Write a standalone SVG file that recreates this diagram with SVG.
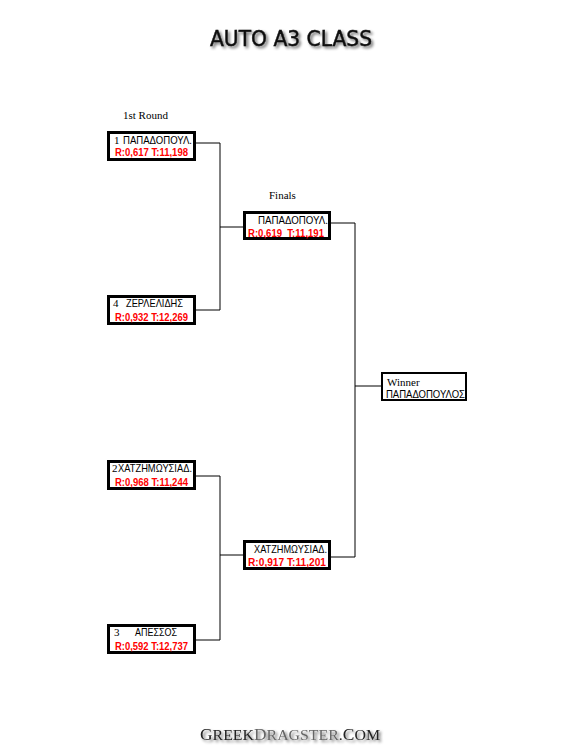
<svg xmlns="http://www.w3.org/2000/svg" width="581" height="752" viewBox="0 0 581 752">
<defs>
<filter id="sh" x="-10%" y="-30%" width="120%" height="180%">
<feGaussianBlur in="SourceAlpha" stdDeviation="1.5"/>
<feOffset dx="2" dy="2" result="b"/>
<feComponentTransfer><feFuncA type="linear" slope="0.6"/></feComponentTransfer>
<feMerge><feMergeNode/><feMergeNode in="SourceGraphic"/></feMerge>
</filter>
</defs>
<style>
.box{fill:#fff;stroke:#000;stroke-width:3}
.wbox{fill:#fff;stroke:#000;stroke-width:2}
.ln{fill:none;stroke:#000;stroke-width:1}
.nm{font-family:"Liberation Sans Narrow","Liberation Sans",Arial,sans-serif;font-size:11.5px;fill:#000}
.sd{font-family:"Liberation Serif","Times New Roman",serif;font-size:11px;fill:#000}
.rt{font-family:"Liberation Sans Narrow","Liberation Sans",Arial,sans-serif;font-size:11px;font-weight:bold;fill:#ff0000}
.lb{font-family:"Liberation Serif","Times New Roman",serif;font-size:11px;fill:#000}
</style>
<rect width="581" height="752" fill="#fff"/>
<text x="291" y="46" text-anchor="middle" font-family="'DejaVu Sans',Verdana,sans-serif" font-size="22" textLength="162" lengthAdjust="spacingAndGlyphs" fill="#111" stroke="#111" stroke-width="0.5" filter="url(#sh)">AUTO A3 CLASS</text>

<text class="lb" x="123" y="119">1st Round</text>
<text class="lb" x="269" y="199">Finals</text>

<g id="connectors">
<polyline class="ln" points="195,143 220,143 220,310 195,310"/>
<line class="ln" x1="220" y1="227" x2="243" y2="227"/>
<polyline class="ln" points="195,476 220,476 220,640 195,640"/>
<line class="ln" x1="220" y1="555" x2="243" y2="555"/>
<polyline class="ln" points="330,223 355,223 355,557 330,557"/>
<line class="ln" x1="355" y1="386" x2="382" y2="386"/>
</g>

<g id="n1">
<rect class="box" x="108.5" y="132.5" width="86" height="27"/>
<text class="sd" x="114" y="144">1</text>
<text class="nm" x="123" y="144" textLength="69" lengthAdjust="spacingAndGlyphs">ΠΑΠΑΔΟΠΟΥΛ.</text>
<text class="rt" x="115" y="156" textLength="73" lengthAdjust="spacingAndGlyphs">R:0,617 T:11,198</text>
</g>
<g id="n4">
<rect class="box" x="108.5" y="296.5" width="86" height="27"/>
<text class="sd" x="113" y="307">4</text>
<text class="nm" x="126" y="307" textLength="57" lengthAdjust="spacingAndGlyphs">ΖΕΡΛΕΛΙΔΗΣ</text>
<text class="rt" x="115" y="321" textLength="73" lengthAdjust="spacingAndGlyphs">R:0,932 T:12,269</text>
</g>
<g id="n2">
<rect class="box" x="108.5" y="461.5" width="86" height="27"/>
<text class="sd" x="112" y="472">2</text>
<text class="nm" x="118" y="472" textLength="74" lengthAdjust="spacingAndGlyphs">ΧΑΤΖΗΜΩΥΣΙΑΔ.</text>
<text class="rt" x="115" y="486" textLength="73" lengthAdjust="spacingAndGlyphs">R:0,968 T:11,244</text>
</g>
<g id="n3">
<rect class="box" x="108.5" y="625.5" width="86" height="27"/>
<text class="sd" x="114" y="636">3</text>
<text class="nm" x="135" y="636" textLength="42" lengthAdjust="spacingAndGlyphs">ΑΠΕΣΣΟΣ</text>
<text class="rt" x="115" y="650" textLength="73" lengthAdjust="spacingAndGlyphs">R:0,592 T:12,737</text>
</g>
<g id="f1">
<rect class="box" x="244.5" y="212.5" width="85" height="26"/>
<text class="nm" x="258" y="224" textLength="70" lengthAdjust="spacingAndGlyphs">ΠΑΠΑΔΟΠΟΥΛ.</text>
<text class="rt" x="248" y="237" textLength="76" lengthAdjust="spacingAndGlyphs" xml:space="preserve">R:0,619  T:11,191</text>
</g>
<g id="f2">
<rect class="box" x="244.5" y="541.5" width="85" height="27"/>
<text class="nm" x="254" y="553" textLength="73" lengthAdjust="spacingAndGlyphs">ΧΑΤΖΗΜΩΥΣΙΑΔ.</text>
<text class="rt" x="248" y="566" textLength="78" lengthAdjust="spacingAndGlyphs">R:0,917 T:11,201</text>
</g>
<g id="winner">
<rect class="wbox" x="382" y="373" width="84" height="27"/>
<text class="lb" x="387" y="386">Winner</text>
<text class="nm" x="386" y="398" textLength="79" lengthAdjust="spacingAndGlyphs">ΠΑΠΑΔΟΠΟΥΛΟΣ</text>
</g>

<text x="200" y="740" font-family="'Liberation Serif','Times New Roman',serif" textLength="180" lengthAdjust="spacingAndGlyphs" fill="#222" filter="url(#sh)"><tspan font-size="17">G</tspan><tspan font-size="15.5">REEK</tspan><tspan font-size="17" fill="#666">D</tspan><tspan font-size="15.5" fill="#666">RAGSTER</tspan><tspan font-size="15.5">.</tspan><tspan font-size="17">C</tspan><tspan font-size="15.5">OM</tspan></text>
</svg>
